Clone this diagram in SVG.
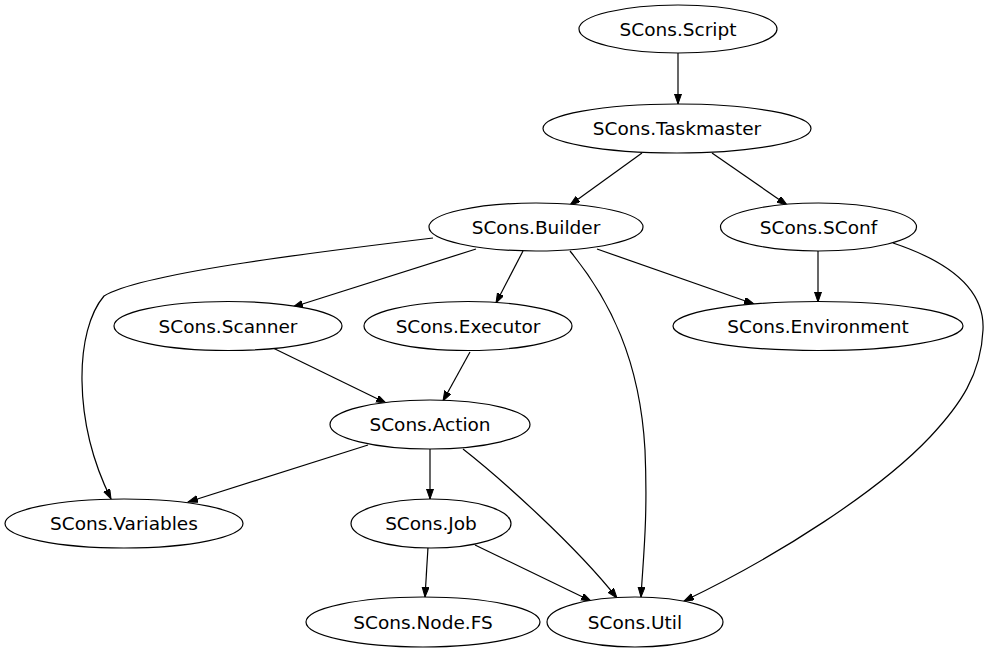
<svg xmlns="http://www.w3.org/2000/svg" width="988" height="653" viewBox="0 0 988 653">
<style>
  .n ellipse { fill: #ffffff; stroke: #000000; stroke-width: 1.2; }
  .n text { font-family: "DejaVu Sans", sans-serif; font-size: 18.5px; fill: #000000; text-anchor: middle; }
  #edges path { fill: none; stroke: #000000; stroke-width: 1.2; marker-end: url(#arrow); }
</style>
<defs>
  <marker id="arrow" markerUnits="userSpaceOnUse" markerWidth="11" markerHeight="8" refX="10" refY="3.5" orient="auto">
    <path d="M0,0 L10,3.5 L0,7 z" fill="#000000" stroke="#000000" stroke-width="1"/>
  </marker>
</defs>
<rect width="988" height="653" fill="#ffffff"/>
<g id="edges">
  <path d="M678,53 L678,104"/>
  <path d="M642,153 L570,205"/>
  <path d="M712,153 L787,205"/>
  <path d="M476,249 L293,307"/>
  <path d="M523,251 L496,303"/>
  <path d="M597,249 L754,304"/>
  <path d="M433,238 C300,254 140,274 104,296 C75,330 72,420 111,499"/>
  <path d="M570,251 C610,300 640,360 645,450 C648,520 643,560 641,597"/>
  <path d="M818,251 L818,302"/>
  <path d="M893,243 C950,262 985,290 983,330 C981,375 960,405 930,437 C880,490 780,555 684,601"/>
  <path d="M273,348 L386,403"/>
  <path d="M470,352 L443,401"/>
  <path d="M368,445 L188,502"/>
  <path d="M430,449 L430,499"/>
  <path d="M463,449 C500,478 575,545 617,598"/>
  <path d="M428,547 L425,597"/>
  <path d="M475,545 L591,601"/>
</g>
<g id="node-script" class="n"><ellipse cx="678" cy="29" rx="99" ry="24"/><text x="678" y="35.5">SCons.Script</text></g>
<g id="node-taskmaster" class="n"><ellipse cx="677" cy="128.5" rx="134" ry="24.5"/><text x="677" y="135">SCons.Taskmaster</text></g>
<g id="node-builder" class="n"><ellipse cx="536" cy="227" rx="107" ry="24"/><text x="536" y="233.5">SCons.Builder</text></g>
<g id="node-sconf" class="n"><ellipse cx="818.5" cy="227" rx="98" ry="24"/><text x="818.5" y="233.5">SCons.SConf</text></g>
<g id="node-scanner" class="n"><ellipse cx="228" cy="326" rx="114" ry="24.5"/><text x="228" y="332.5">SCons.Scanner</text></g>
<g id="node-executor" class="n"><ellipse cx="468" cy="326" rx="104" ry="24.5"/><text x="468" y="332.5">SCons.Executor</text></g>
<g id="node-environment" class="n"><ellipse cx="818" cy="326" rx="145" ry="24.5"/><text x="818" y="332.5">SCons.Environment</text></g>
<g id="node-action" class="n"><ellipse cx="430" cy="424.5" rx="100" ry="24.5"/><text x="430" y="431">SCons.Action</text></g>
<g id="node-variables" class="n"><ellipse cx="124" cy="523.5" rx="119" ry="24.5"/><text x="124" y="530">SCons.Variables</text></g>
<g id="node-job" class="n"><ellipse cx="431" cy="523.5" rx="80" ry="24.5"/><text x="431" y="530">SCons.Job</text></g>
<g id="node-nodefs" class="n"><ellipse cx="423" cy="622" rx="117" ry="25"/><text x="423" y="628.5">SCons.Node.FS</text></g>
<g id="node-util" class="n"><ellipse cx="635" cy="622" rx="88" ry="25"/><text x="635" y="628.5">SCons.Util</text></g>
</svg>
